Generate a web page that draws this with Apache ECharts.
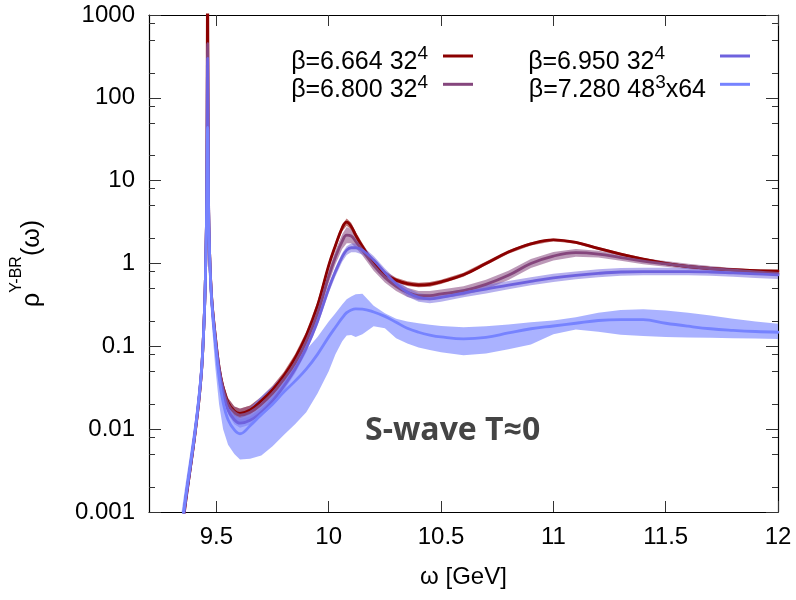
<!DOCTYPE html>
<html><head><meta charset="utf-8">
<script src="https://cdn.jsdelivr.net/npm/echarts@6/dist/echarts.min.js"></script>
<style>html,body{margin:0;padding:0;background:#fff}#c{width:796px;height:600px}</style>
</head><body><div id="c"></div>
<script>
// ---- data ----
const omega = [9.34, 9.363, 9.385, 9.405, 9.422, 9.435, 9.444, 9.449, 9.453, 9.457, 9.461, 9.465, 9.47, 9.479, 9.494, 9.512, 9.53, 9.552, 9.58,
  9.605, 9.65, 9.7, 9.75, 9.8, 9.85, 9.9, 9.95, 10.0, 10.03, 10.06, 10.08, 10.1, 10.12, 10.15, 10.2, 10.25, 10.3, 10.35, 10.4, 10.45, 10.5,
  10.6, 10.7, 10.8, 10.9, 11.0, 11.1, 11.2, 11.3, 11.4, 11.5, 11.6, 11.7, 11.8, 11.9, 12.0];

// beta = 6.664, 32^4
const s1Mid = [0.0004, 0.0013, 0.0035, 0.0088, 0.022, 0.056, 0.17, 0.4, 1.2, 6, 3000, 6, 1.3, 0.39, 0.143, 0.056, 0.032, 0.021, 0.0165,
  0.0155, 0.017, 0.022, 0.030, 0.044, 0.072, 0.135, 0.31, 0.95, 1.65, 2.7, 3.15, 2.8, 2.2, 1.6, 1.0, 0.75, 0.63, 0.57, 0.55, 0.56, 0.6,
  0.73, 1.0, 1.38, 1.73, 1.93, 1.8, 1.52, 1.3, 1.13, 1.0, 0.92, 0.87, 0.84, 0.82, 0.81];
const s1Lo = [0.00035, 0.0011, 0.003, 0.0077, 0.019, 0.049, 0.15, 0.35, 1.05, 5, 2500, 5, 1.1, 0.34, 0.125, 0.049, 0.028, 0.0185, 0.0145,
  0.0135, 0.015, 0.0195, 0.027, 0.04, 0.065, 0.122, 0.28, 0.86, 1.5, 2.45, 2.85, 2.55, 2.0, 1.47, 0.93, 0.7, 0.59, 0.535, 0.515, 0.525, 0.565,
  0.69, 0.95, 1.31, 1.65, 1.85, 1.73, 1.46, 1.25, 1.09, 0.96, 0.885, 0.835, 0.805, 0.785, 0.775];
const s1Hi = [0.00045, 0.0015, 0.004, 0.01, 0.025, 0.064, 0.195, 0.46, 1.38, 7, 3600, 7, 1.5, 0.45, 0.164, 0.064, 0.036, 0.0238, 0.0188,
  0.0177, 0.0193, 0.0247, 0.0335, 0.049, 0.08, 0.15, 0.345, 1.05, 1.82, 2.98, 3.5, 3.1, 2.42, 1.75, 1.08, 0.81, 0.675, 0.61, 0.587, 0.597, 0.638,
  0.775, 1.055, 1.45, 1.81, 2.01, 1.87, 1.58, 1.35, 1.175, 1.04, 0.955, 0.905, 0.875, 0.855, 0.845];

// beta = 6.800, 32^4
const s2Mid = [0.00042, 0.0014, 0.0036, 0.009, 0.022, 0.055, 0.17, 0.4, 1.2, 6, 450, 6, 1.3, 0.38, 0.14, 0.055, 0.031, 0.02, 0.016,
  0.0148, 0.016, 0.02, 0.027, 0.04, 0.063, 0.115, 0.25, 0.7, 1.2, 1.85, 2.2, 2.15, 1.85, 1.45, 0.95, 0.68, 0.53, 0.45, 0.41, 0.41, 0.43,
  0.47, 0.56, 0.72, 1.0, 1.23, 1.35, 1.3, 1.18, 1.07, 0.99, 0.92, 0.87, 0.83, 0.79, 0.76];
const s2Lo = [0.00036, 0.0012, 0.0031, 0.0077, 0.019, 0.047, 0.145, 0.34, 1.02, 5, 380, 5, 1.1, 0.32, 0.12, 0.047, 0.026, 0.017, 0.0132,
  0.0121, 0.0132, 0.0166, 0.0225, 0.034, 0.054, 0.098, 0.21, 0.58, 0.98, 1.5, 1.75, 1.75, 1.55, 1.25, 0.82, 0.59, 0.465, 0.395, 0.36, 0.36, 0.38,
  0.415, 0.49, 0.63, 0.88, 1.09, 1.21, 1.18, 1.08, 0.98, 0.915, 0.855, 0.81, 0.775, 0.74, 0.715];
const s2Hi = [0.00049, 0.0016, 0.0042, 0.0105, 0.026, 0.064, 0.2, 0.47, 1.4, 7, 530, 7, 1.5, 0.44, 0.163, 0.064, 0.036, 0.0235, 0.0188,
  0.0178, 0.0192, 0.024, 0.032, 0.047, 0.074, 0.135, 0.3, 0.84, 1.45, 2.25, 2.75, 2.6, 2.2, 1.7, 1.1, 0.78, 0.6, 0.51, 0.465, 0.465, 0.485,
  0.53, 0.635, 0.815, 1.13, 1.38, 1.5, 1.43, 1.29, 1.16, 1.07, 0.99, 0.935, 0.885, 0.84, 0.81];

// beta = 6.950, 32^4
const s3Mid = [0.00045, 0.0014, 0.0037, 0.0092, 0.023, 0.057, 0.17, 0.4, 1.2, 6, 300, 6, 1.25, 0.37, 0.13, 0.05, 0.027, 0.017, 0.013,
  0.0118, 0.0128, 0.016, 0.022, 0.033, 0.053, 0.095, 0.2, 0.5, 0.8, 1.2, 1.45, 1.55, 1.55, 1.45, 1.1, 0.78, 0.57, 0.45, 0.39, 0.375, 0.39,
  0.44, 0.49, 0.55, 0.61, 0.67, 0.72, 0.76, 0.79, 0.8, 0.8, 0.8, 0.79, 0.77, 0.75, 0.73];
const s3Lo = [0.0004, 0.00125, 0.0033, 0.0082, 0.0205, 0.051, 0.152, 0.355, 1.07, 5.3, 260, 5.3, 1.1, 0.33, 0.116, 0.0445, 0.024, 0.0151, 0.0115,
  0.0104, 0.0113, 0.0141, 0.0195, 0.029, 0.047, 0.084, 0.177, 0.44, 0.7, 1.05, 1.27, 1.37, 1.37, 1.28, 0.97, 0.69, 0.505, 0.4, 0.345, 0.332, 0.345,
  0.39, 0.435, 0.49, 0.545, 0.6, 0.645, 0.68, 0.71, 0.72, 0.72, 0.72, 0.71, 0.69, 0.67, 0.65];
const s3Hi = [0.0005, 0.00157, 0.0041, 0.0103, 0.0258, 0.064, 0.19, 0.45, 1.34, 6.7, 340, 6.7, 1.4, 0.415, 0.146, 0.056, 0.03, 0.019, 0.0146,
  0.0132, 0.0143, 0.0179, 0.0246, 0.037, 0.059, 0.106, 0.224, 0.56, 0.9, 1.34, 1.62, 1.74, 1.74, 1.62, 1.23, 0.87, 0.64, 0.505, 0.437, 0.42, 0.437,
  0.49, 0.55, 0.615, 0.68, 0.75, 0.8, 0.85, 0.88, 0.89, 0.89, 0.89, 0.88, 0.86, 0.84, 0.815];

// beta = 7.280, 48^3x64
const s4Mid = [0.0005, 0.0015, 0.0039, 0.0095, 0.024, 0.058, 0.17, 0.4, 1.2, 5, 44, 5, 1.2, 0.35, 0.12, 0.042, 0.021, 0.013, 0.0098,
  0.0088, 0.011, 0.015, 0.02, 0.028, 0.038, 0.053, 0.08, 0.13, 0.17, 0.22, 0.255, 0.275, 0.284, 0.282, 0.26, 0.23, 0.195, 0.165, 0.148, 0.137, 0.13,
  0.123, 0.128, 0.145, 0.163, 0.176, 0.19, 0.205, 0.21, 0.21, 0.19, 0.175, 0.163, 0.156, 0.151, 0.148];
const s4Lo = [0.0003, 0.001, 0.0027, 0.0067, 0.017, 0.04, 0.12, 0.28, 0.85, 3.5, 36, 3.5, 0.8, 0.2, 0.06, 0.02, 0.01, 0.0065, 0.005,
  0.0043, 0.0044, 0.0048, 0.0062, 0.0085, 0.0115, 0.016, 0.027, 0.05, 0.08, 0.115, 0.135, 0.137, 0.13, 0.14, 0.175, 0.165, 0.125, 0.108, 0.097, 0.09, 0.085,
  0.078, 0.082, 0.092, 0.105, 0.14, 0.16, 0.15, 0.138, 0.133, 0.13, 0.128, 0.127, 0.125, 0.124, 0.123];
const s4Hi = [0.0008, 0.0022, 0.0055, 0.013, 0.032, 0.08, 0.24, 0.56, 1.7, 7, 55, 7, 1.7, 0.5, 0.18, 0.065, 0.033, 0.02, 0.015,
  0.014, 0.018, 0.025, 0.033, 0.046, 0.065, 0.09, 0.13, 0.2, 0.25, 0.32, 0.37, 0.4, 0.425, 0.43, 0.31, 0.25, 0.215, 0.2, 0.19, 0.182, 0.176,
  0.17, 0.175, 0.183, 0.195, 0.205, 0.225, 0.255, 0.275, 0.28, 0.27, 0.255, 0.235, 0.215, 0.2, 0.187];

const seriesNames = ['β=6.664 32⁴', 'β=6.800 32⁴', 'β=6.950 32⁴', 'β=7.280 48³x64'];
const xTickValues = [9.5, 10, 10.5, 11, 11.5, 12];
const yMinorTickValues = [0.002, 0.005, 0.008, 0.02, 0.05, 0.08, 0.2, 0.5, 0.8, 2, 5, 8, 20, 50, 80, 200, 500, 800];
const xTitle = 'ω [GeV]';
const annotation = 'S-wave T≈0';

// ---- styling ----
const FONT = '"Liberation Sans", Arial, sans-serif';
const lineColors = ['#8b0000', '#85467d', '#6e62de', '#7683ff'];
const bandOpacity = [0.55, 0.55, 0.5, 0.62];

const chart = echarts.init(document.getElementById('c'), null, { renderer: 'canvas' });

function bandSeries(lo, hi, color, op) {
  return {
    type: 'custom', coordinateSystem: 'cartesian2d', xAxisIndex: 0, yAxisIndex: 0,
    clip: true, silent: true, data: [[10, 1]],
    renderItem: function (params, api) {
      const pts = [];
      for (let i = 0; i < omega.length; i++) pts.push(api.coord([omega[i], hi[i]]));
      for (let i = omega.length - 1; i >= 0; i--) pts.push(api.coord([omega[i], lo[i]]));
      return { type: 'polygon', shape: { points: pts }, style: { fill: color, opacity: op } };
    }
  };
}
function lineSeries(name, mid, color) {
  return {
    type: 'line', name: name, data: omega.map((x, i) => [x, mid[i]]),
    xAxisIndex: 0, yAxisIndex: 0,
    showSymbol: false, symbol: 'none', smooth: 0.4, clip: true,
    lineStyle: { color: color, width: 2.8, join: 'round', cap: 'round' }, itemStyle: { color: color }
  };
}
const mids = [s1Mid, s2Mid, s3Mid, s4Mid];
const los = [s1Lo, s2Lo, s3Lo, s4Lo];
const his = [s1Hi, s2Hi, s3Hi, s4Hi];
const series = [];
for (let k = 0; k < 4; k++) {
  series.push(bandSeries(los[k], his[k], lineColors[k], bandOpacity[k]));
  series.push(lineSeries(seriesNames[k], mids[k], lineColors[k]));
}

const supMap = { '⁰': '0', '¹': '1', '²': '2', '³': '3', '⁴': '4', '⁵': '5', '⁶': '6', '⁷': '7', '⁸': '8', '⁹': '9' };
function legendFmt(name) {
  const m = name.match(/^(.*?)([⁰¹²³⁴⁵⁶⁷⁸⁹])(.*)$/);
  if (!m) return '{t|' + name + '}';
  return '{t|' + m[1] + '}{s|' + supMap[m[2]] + '}' + (m[3] ? '{t|' + m[3] + '}' : '');
}
// main text sits at the bottom of a tall line, the exponent at its top
const legendRich = {
  t: { fontFamily: FONT, fontSize: 25, lineHeight: 30, color: '#000', verticalAlign: 'bottom' },
  s: { fontFamily: FONT, fontSize: 19, lineHeight: 16, verticalAlign: 'top', color: '#000' }
};
// one legend per entry: icon column fixed (gnuplot-like key)
function makeLegend(name, right, top, padR) {
  return {
    data: [name], right: right, top: top, orient: 'horizontal', align: 'right',
    icon: 'rect', itemWidth: 30, itemHeight: 3, itemGap: 0, padding: 0,
    selectedMode: false, formatter: legendFmt,
    textStyle: { fontFamily: FONT, fontSize: 25, color: '#000', padding: [7, padR, 0, 0], rich: legendRich }
  };
}

const axisLineStyle = { color: '#000', width: 1.2 };
const tickStyle = { color: '#333', width: 1 };
const minorTickPos = yMinorTickValues.map(v => Math.log10(v)); // tick positions on a decade axis

const option = {
  backgroundColor: '#fff',
  animation: false,
  grid: { left: 149, right: 18, top: 15, bottom: 88, containLabel: false },
  legend: [
    makeLegend(seriesNames[0], 323, 44.5, 10),
    makeLegend(seriesNames[1], 323, 72.8, 10),
    makeLegend(seriesNames[2], 46, 44.5, 50),
    makeLegend(seriesNames[3], 46, 72.8, 9)
  ],
  xAxis: [
    {
      type: 'value', min: 9.2, max: 12, position: 'bottom',
      axisLine: { show: true, onZero: false, lineStyle: axisLineStyle },
      axisTick: { show: true, inside: true, length: 11, customValues: xTickValues, lineStyle: tickStyle },
      axisLabel: { customValues: xTickValues, fontFamily: FONT, fontSize: 24, color: '#000', margin: 13 },
      splitLine: { show: false },
      name: xTitle, nameLocation: 'middle', nameGap: 53,
      nameTextStyle: { fontFamily: FONT, fontSize: 24, color: '#000' }
    },
    {
      type: 'value', min: 9.2, max: 12, position: 'top',
      axisLine: { show: true, onZero: false, lineStyle: axisLineStyle },
      axisTick: { show: true, inside: true, length: 11, customValues: xTickValues, lineStyle: tickStyle },
      axisLabel: { show: false }, splitLine: { show: false }
    }
  ],
  yAxis: [
    {
      type: 'log', logBase: 10, min: 0.001, max: 1000, splitNumber: 6, position: 'left',
      axisLine: { show: true, onZero: false, lineStyle: axisLineStyle },
      axisTick: { show: true, inside: true, length: 12, lineStyle: tickStyle },
      axisLabel: { fontFamily: FONT, fontSize: 24, color: '#000', margin: 14,
        formatter: v => String(+(+v).toPrecision(3)) },
      splitLine: { show: false },
      name: '{r|ρ}{s|Y-BR}{r|(ω)}', nameLocation: 'middle', nameRotate: 90, nameGap: 104,
      nameTextStyle: { fontFamily: FONT, fontSize: 24, color: '#000',
        rich: { r: { fontFamily: FONT, fontSize: 25, lineHeight: 36, color: '#000', verticalAlign: 'bottom' },
                s: { fontFamily: FONT, fontSize: 16, lineHeight: 16, verticalAlign: 'top', color: '#000' } } }
    },
    {
      type: 'log', logBase: 10, min: 0.001, max: 1000, splitNumber: 6, position: 'right',
      axisLine: { show: true, onZero: false, lineStyle: axisLineStyle },
      axisTick: { show: true, inside: true, length: 12, lineStyle: tickStyle },
      axisLabel: { show: false }, splitLine: { show: false }
    },
    {
      type: 'value', min: -3, max: 3, position: 'left',
      axisLine: { show: false },
      axisTick: { show: true, inside: true, length: 6, customValues: minorTickPos, lineStyle: tickStyle },
      axisLabel: { show: false }, splitLine: { show: false }
    },
    {
      type: 'value', min: -3, max: 3, position: 'right',
      axisLine: { show: false },
      axisTick: { show: true, inside: true, length: 6, customValues: minorTickPos, lineStyle: tickStyle },
      axisLabel: { show: false }, splitLine: { show: false }
    }
  ],
  graphic: [{
    type: 'text', x: 365, y: 431, silent: true,
    style: { text: annotation, font: 'bold 32px "Open Sans", sans-serif', fill: '#444', verticalAlign: 'middle', align: 'left' }
  }],
  series: series
};
chart.setOption(option);
</script>
</body></html>
